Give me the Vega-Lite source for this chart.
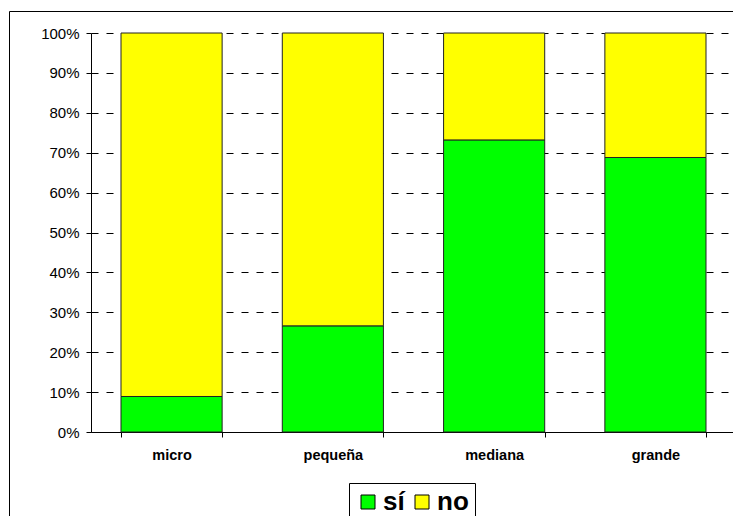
{
  "$schema": "https://vega.github.io/schema/vega-lite/v6.json",
  "autosize": "none",
  "width": 725,
  "height": 506,
  "padding": {"left": 9, "top": 11, "right": -1, "bottom": -1},
  "background": "white",
  "config": {
    "view": {"stroke": "black", "strokeWidth": 1},
    "font": "Liberation Sans"
  },
  "data": {
    "values": [
      {"tamano": "micro", "respuesta": "sí", "valor": 8.9},
      {"tamano": "micro", "respuesta": "no", "valor": 91.1},
      {"tamano": "pequeña", "respuesta": "sí", "valor": 26.6},
      {"tamano": "pequeña", "respuesta": "no", "valor": 73.4},
      {"tamano": "mediana", "respuesta": "sí", "valor": 73.2},
      {"tamano": "mediana", "respuesta": "no", "valor": 26.8},
      {"tamano": "grande", "respuesta": "sí", "valor": 68.8},
      {"tamano": "grande", "respuesta": "no", "valor": 31.2}
    ]
  },
  "mark": {"type": "bar", "stroke": "#222222", "strokeWidth": 1},
  "encoding": {
    "x": {
      "field": "tamano",
      "type": "nominal",
      "sort": ["micro", "pequeña", "mediana", "grande"],
      "scale": {"range": [82, 727], "paddingInner": 0.373, "paddingOuter": 0.186},
      "axis": {
        "title": null,
        "offset": -85,
        "labelAngle": 0,
        "labelFont": "Liberation Sans",
        "labelFontSize": 14.5,
        "labelFontWeight": "bold",
        "labelColor": "black",
        "labelPadding": 11,
        "tickBand": "extent",
        "tickSize": 5,
        "tickColor": "black",
        "domainColor": "black",
        "grid": false
      }
    },
    "y": {
      "field": "valor",
      "type": "quantitative",
      "stack": "normalize",
      "scale": {"domain": [0, 1], "range": [421, 22], "nice": false},
      "axis": {
        "title": null,
        "offset": -82,
        "values": [0, 0.1, 0.2, 0.3, 0.4, 0.5, 0.6, 0.7, 0.8, 0.9, 1],
        "format": ".0%",
        "labelFont": "Liberation Sans",
        "labelFontSize": 15,
        "labelColor": "black",
        "labelPadding": 7,
        "tickSize": 5,
        "tickColor": "black",
        "domainColor": "black",
        "grid": true,
        "gridColor": "black",
        "gridDash": [7, 8],
        "gridWidth": 1,
        "gridOpacity": 1
      }
    },
    "color": {
      "field": "respuesta",
      "type": "nominal",
      "scale": {"domain": ["sí", "no"], "range": ["#00ff00", "#ffff00"]},
      "legend": {
        "title": null,
        "orient": "none",
        "legendX": 340,
        "legendY": 472,
        "direction": "horizontal",
        "symbolType": "square",
        "symbolSize": 196,
        "symbolStrokeColor": "black",
        "symbolStrokeWidth": 1,
        "symbolOpacity": 1,
        "labelFont": "Liberation Sans",
        "labelFontSize": 26,
        "labelFontWeight": "bold",
        "labelColor": "black",
        "labelOffset": 2,
        "columnPadding": 4,
        "strokeColor": "black",
        "padding": 6
      }
    },
    "order": {"field": "respuesta", "sort": "descending"}
  }
}
